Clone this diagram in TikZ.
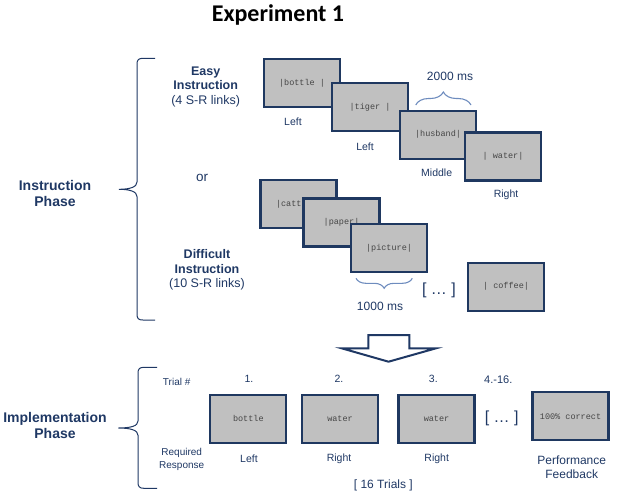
\documentclass[tikz,border=0pt]{standalone}
\usepackage{fontspec}
\setmainfont{Liberation Sans}
\setmonofont{Liberation Mono}
\newfontfamily\titlefont{Carlito}
\usetikzlibrary{decorations.pathreplacing}
\definecolor{navy}{RGB}{31,56,100}
\definecolor{boxline}{RGB}{31,56,96}
\definecolor{boxfill}{RGB}{192,192,192}
\definecolor{wordgray}{RGB}{70,70,70}
\definecolor{bracec}{RGB}{110,140,190}
\begin{document}
\begin{tikzpicture}[x=1pt,y=-1pt,
    screen/.style={draw=boxline,line width=2.2pt,fill=boxfill,minimum width=76pt,minimum height=48pt,inner sep=0pt,text=wordgray,font=\ttfamily\fontsize{8.5}{10}\selectfont},
    lbl/.style={text=navy,inner sep=0pt,align=center,font=\fontsize{10.5}{12.5}\selectfont},
    small/.style={lbl,font=\fontsize{10}{12.5}\selectfont},
    big/.style={lbl,font=\fontsize{12}{14}\selectfont},
    head/.style={lbl,font=\bfseries\fontsize{12.5}{14.5}\selectfont},
    phase/.style={lbl,font=\bfseries\fontsize{14}{16}\selectfont},
    dots/.style={lbl,font=\fontsize{16}{18}\selectfont},
    bigbrace/.style={draw=navy,line width=1pt},
    msbrace/.style={draw=bracec,line width=1.1pt,decorate,decoration={brace,amplitude=#1}}]
  \useasboundingbox (0,0) rectangle (617,495);
  \draw
    (278,15) node[lbl,font=\titlefont\bfseries\fontsize{24}{28}\selectfont,text=black] (title){Experiment 1}
    (55,193) node[phase] (instr){Instruction\\Phase}
    (55,425) node[phase] (impl){Implementation\\Phase}
    (205.7,86.7) node[head] (easy){Easy\\Instruction\\{\mdseries(4 S-R links)}}
    (202,178) node[lbl,font=\fontsize{13.5}{16}\selectfont] (or){or}
    (207,270) node[head] (diff){Difficult\\Instruction\\{\mdseries(10 S-R links)}};
  \draw
    (302,83) node[screen] (bottle){|bottle |}
    (370,107) node[screen] (tiger){|tiger |}
    (438,134.7) node[screen] (husband){|husband|}
    (503,156.5) node[screen] (water){| water|}
    (293,122) node[lbl] (lbottle){Left}
    (365,147) node[lbl] (ltiger){Left}
    (436.7,173) node[lbl] (lhusband){Middle}
    (506,195) node[lbl] (lwater){Right}
    (450,76.7) node[big] (ms2000){2000 ms};
  \draw
    (298.5,204.3) node[screen,text width=45pt,align=left] (catt){|catt}
    (341.5,222.5) node[screen] (paper){|paper|}
    (389,248.3) node[screen] (picture){|picture|}
    (506,286.7) node[screen] (coffee){| coffee|}
    (439,290) node[dots] (more){[ \dots\ ]}
    (380,306) node[big] (ms1000){1000 ms};
  \draw
    (176.7,382.3) node[small] (trial){Trial \#}
    (181.7,459.5) node[small] (req){Required\\Response}
    (249,379.3) node[lbl] (n1){1.}
    (339,379.3) node[lbl] (n2){2.}
    (433.3,379.3) node[lbl] (n3){3.}
    (498.3,379.3) node[lbl,font=\fontsize{11}{13}\selectfont] (n4){4.-16.}
    (248.3,418.7) node[screen] (t1){bottle}
    (340,418.7) node[screen] (t2){water}
    (436.5,418.7) node[screen] (t3){water}
    (501.7,418.3) node[dots] (tmore){[ \dots\ ]}
    (570.5,416.3) node[screen] (fb){100\% correct}
    (249,458.3) node[lbl] (r1){Left}
    (339,458.3) node[lbl] (r2){Right}
    (436.7,458.3) node[lbl] (r3){Right}
    (571.7,467) node[big] (rfb){Performance\\Feedback}
    (383.3,485.7) node[big] (sixteen){[ 16 Trials ]};
  \begin{scope}
    \draw[bigbrace] (155,58.3) -- (143,58.3) .. controls (138.5,58.3) and (137,60) .. (137,64)
      -- (137,182) .. controls (137,187) and (130,189.3) .. (119,189.3)
      .. controls (130,189.3) and (137,191.6) .. (137,196.6)
      -- (137,314.3) .. controls (137,318.6) and (138.5,320) .. (143,320) -- (155,320);
    \draw[bigbrace] (157,367.3) -- (144,367.3) .. controls (139.5,367.3) and (138,369) .. (138,373)
      -- (138,421) .. controls (138,426) and (131,428) .. (118.3,428)
      .. controls (131,428) and (138,430.3) .. (138,435.3)
      -- (138,482.3) .. controls (138,486.6) and (139.5,488.3) .. (144,488.3) -- (157,488.3);
    \draw[msbrace=13pt] (415.7,105) -- (471,105);
    \draw[msbrace=10pt] (412.3,278.3) -- (356,278.3);
    \draw[draw=navy,fill=white,line width=2pt,line join=miter]
      (368.3,335) -- (409.3,335) -- (409.3,348.3) -- (436,348.3) -- (388.5,361.7)
      -- (341.7,348.3) -- (368.3,348.3) -- cycle;
  \end{scope}
\end{tikzpicture}
\end{document}
